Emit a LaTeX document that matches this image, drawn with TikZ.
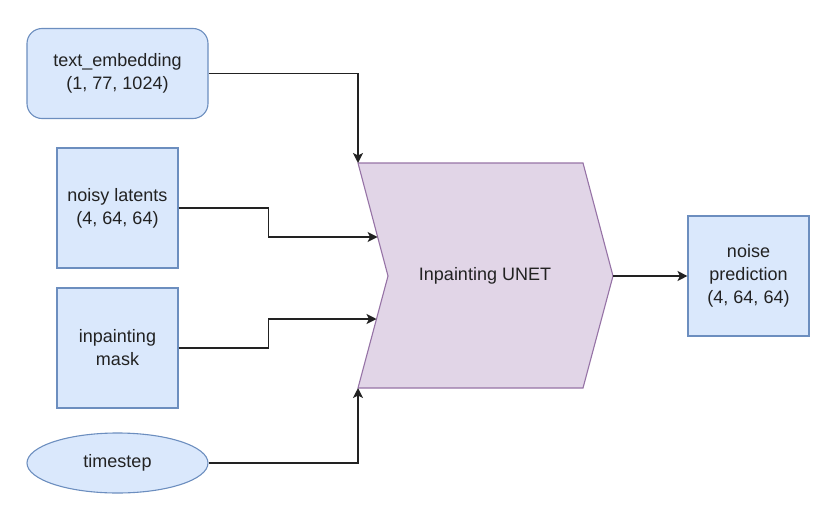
\documentclass[tikz,border=0pt]{standalone}
\usepackage{fontspec}
\setmainfont{Liberation Sans}
\usetikzlibrary{arrows.meta,shapes.geometric}

\definecolor{boxfill}{HTML}{DAE8FC}
\definecolor{boxline}{HTML}{6C8EBF}
\definecolor{unetfill}{HTML}{E1D5E7}
\definecolor{unetline}{HTML}{9673A6}
\definecolor{wire}{HTML}{222222}
\definecolor{txt}{HTML}{222222}

\begin{document}
\begin{tikzpicture}[x=1pt,y=-1pt,
  lbl/.style={font=\fontsize{18}{23}\selectfont, text=txt, align=center},
  inbox/.style={lbl, draw=boxline, fill=boxfill, line width=1.1pt, inner sep=0pt,
                minimum width=121pt, minimum height=120pt},
  roundbox/.style={inbox, rounded corners=15pt, minimum width=181pt, minimum height=90pt},
  oval/.style={lbl, ellipse, draw=boxline, fill=boxfill, line width=1.1pt, inner sep=0pt,
               minimum width=181pt, minimum height=60pt},
  wirearrow/.style={draw=wire, line width=1.4pt,
                    -{Stealth[length=10pt,width=10pt,inset=2.5pt]}}]

  \useasboundingbox (0,0) rectangle (837,522);

  % inputs
  \node[roundbox] (te) at (117.5,73.5) {text\_embedding\\(1, 77, 1024)};
  \node[inbox] (nl) at (117.5,208) {noisy latents\\(4, 64, 64)};
  \node[inbox] (mk) at (117.5,348) {inpainting\\mask};
  \node[oval]  (ts) at (117.5,463) {timestep};

  % UNET chevron
  \coordinate (utl) at (358,163);
  \coordinate (utr) at (583,163);
  \coordinate (utip) at (613,276);
  \coordinate (ubr) at (583,388);
  \coordinate (ubl) at (358,388);
  \coordinate (unotch) at (388,276);
  \coordinate (in1) at (377.6,237);
  \coordinate (in2) at (376.5,319);
  \draw[draw=unetline, fill=unetfill, line width=1.1pt]
    (utl) -- (utr) -- (utip) -- (ubr) -- (ubl) -- (unotch) -- cycle;
  \node[lbl] (unet) at (485,276) {Inpainting UNET};

  % output
  \node[inbox] (np) at (748.5,276) {noise\\prediction\\(4, 64, 64)};

  % connectors
  \draw[wirearrow] (te.east) -| (utl);
  \draw[wirearrow] (nl.east) -- ++(90,0) |- (in1);
  \draw[wirearrow] (mk.east) -- ++(90,0) |- (in2);
  \draw[wirearrow] (ts.east) -| (ubl);
  \draw[wirearrow] (utip) -- (np.west);
\end{tikzpicture}
\end{document}
